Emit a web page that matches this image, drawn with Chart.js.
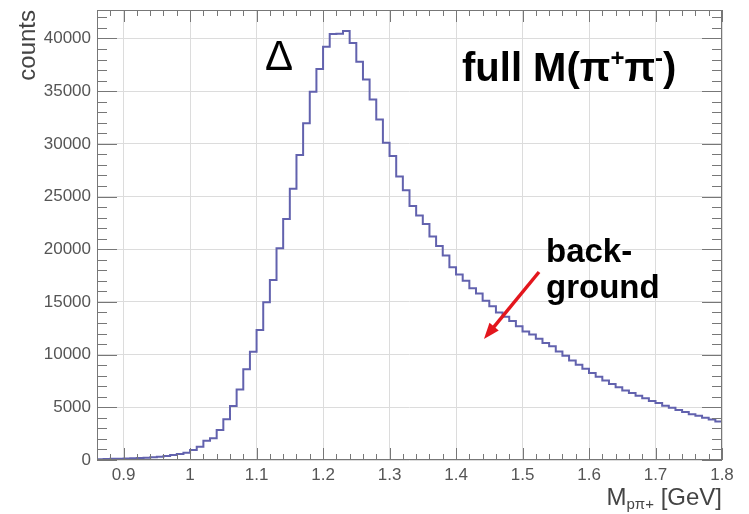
<!DOCTYPE html>
<html>
<head>
<meta charset="utf-8">
<script src="https://cdn.jsdelivr.net/npm/chart.js@4.4.0/dist/chart.umd.min.js"></script>
<style>
html, body { margin: 0; padding: 0; background: #fff; }
#myChart { display: block; }
</style>
</head>
<body>
<canvas id="myChart" width="749" height="514"></canvas>
<script>
// histogram: bins of 0.01 GeV starting at 0.86
const binStart = 0.86;
const binWidth = 0.01;
const xRange = [0.86, 1.8];
const yRange = [0, 42700];

const counts = [
    80, 90, 110, 120, 140, 160, 180, 210, 250, 300, 380, 470, 580, 680,
    950, 1260, 1820, 2060, 2850, 3860, 5120, 6700, 8600, 10280,
    12340, 14960, 17080, 20090, 22870, 25750, 28940, 31950, 34950, 37100,
    39220, 40430, 40450, 40700, 39580, 37780, 36100, 34200, 32300, 30100,
    28850, 26900, 25600, 24100, 23200, 22400, 21200, 20300, 19400, 18300,
    17600, 17000, 16300, 15800, 15100, 14600, 14000, 13600, 13200, 12700,
    12200, 11900, 11500, 11100, 10800, 10300, 9900, 9450, 9050, 8650,
    8250, 7900, 7550, 7200, 6900, 6600, 6350, 6100, 5850, 5600,
    5400, 5150, 4950, 4750, 4550, 4350, 4200, 4000, 3850, 3650
];

const xTicks = [0.9, 1, 1.1, 1.2, 1.3, 1.4, 1.5, 1.6, 1.7, 1.8];
const yTicks = [0, 5000, 10000, 15000, 20000, 25000, 30000, 35000, 40000];

const points = counts.map((c, i) => ({ x: +(binStart + i * binWidth).toFixed(2), y: c }));
points.push({ x: xRange[1], y: counts[counts.length - 1] });

function drawParts(ctx, parts, x, y) {
    let cx = x;
    parts.forEach(p => {
        ctx.font = p.font;
        ctx.fillText(p.t, cx, y + (p.dy || 0));
        cx += ctx.measureText(p.t).width;
    });
}

// ROOT style frame, inner ticks and the text labels
const rootFrame = {
    id: 'rootFrame',
    afterDraw(chart) {
        const { ctx, chartArea: a, scales: { x, y } } = chart;
        ctx.save();
        ctx.strokeStyle = '#777';
        ctx.lineWidth = 1;
        ctx.beginPath();
        for (let v = 0; v <= yRange[1]; v += 1000) {
            const py = Math.round(y.getPixelForValue(v)) + 0.5;
            const len = v % 5000 === 0 ? 20 : 10;
            ctx.moveTo(a.left, py); ctx.lineTo(a.left + len, py);
            ctx.moveTo(a.right, py); ctx.lineTo(a.right - len, py);
        }
        for (let i = 0; i <= 47; i++) {
            const v = xRange[0] + i * 0.02;
            const px = Math.round(x.getPixelForValue(v)) + 0.5;
            const major = Math.abs(v * 10 - Math.round(v * 10)) < 1e-6;
            const len = major ? 12 : 6;
            ctx.moveTo(px, a.bottom); ctx.lineTo(px, a.bottom - len);
            ctx.moveTo(px, a.top); ctx.lineTo(px, a.top + len);
        }
        ctx.stroke();
        ctx.strokeRect(a.left + 0.5, a.top + 0.5, a.width - 1, a.height - 1);

        // x axis title with subscript
        ctx.fillStyle = '#444';
        ctx.textBaseline = 'alphabetic';
        const tParts = [
            { t: 'M', font: '24px "Liberation Sans", Arial, sans-serif' },
            { t: 'pπ+', font: '15px "Liberation Sans", Arial, sans-serif', dy: 4 },
            { t: ' [GeV]', font: '24px "Liberation Sans", Arial, sans-serif' }
        ];
        let w = 0;
        tParts.forEach(p => { ctx.font = p.font; w += ctx.measureText(p.t).width; });
        drawParts(ctx, tParts, a.right - w, 505);

        // annotations
        ctx.fillStyle = '#000';
        ctx.font = '42px "Liberation Sans", Arial, sans-serif';
        ctx.fillText('Δ', x.getPixelForValue(1.1127), y.getPixelForValue(37000));

        const big = 'bold 40px "Liberation Sans", Arial, sans-serif';
        const sup = 'bold 24px "Liberation Sans", Arial, sans-serif';
        drawParts(ctx, [
            { t: 'full M(π', font: big },
            { t: '+', font: sup, dy: -15 },
            { t: 'π', font: big },
            { t: '-', font: sup, dy: -15 },
            { t: ')', font: big }
        ], x.getPixelForValue(1.409), y.getPixelForValue(35960));

        ctx.font = 'bold 33px "Liberation Sans", Arial, sans-serif';
        ctx.fillText('back-', x.getPixelForValue(1.5353), y.getPixelForValue(18790));
        ctx.fillText('ground', x.getPixelForValue(1.5353), y.getPixelForValue(15370));

        // red arrow
        const x0 = x.getPixelForValue(1.5248), y0 = y.getPixelForValue(17840);
        const x1 = x.getPixelForValue(1.442), y1 = y.getPixelForValue(11480);
        const ang = Math.atan2(y1 - y0, x1 - x0);
        const head = 16;
        ctx.strokeStyle = '#e3161d';
        ctx.fillStyle = '#e3161d';
        ctx.lineWidth = 3.5;
        ctx.beginPath();
        ctx.moveTo(x0, y0);
        ctx.lineTo(x1 - Math.cos(ang) * head * 0.8, y1 - Math.sin(ang) * head * 0.8);
        ctx.stroke();
        ctx.beginPath();
        ctx.moveTo(x1, y1);
        ctx.lineTo(x1 - head * Math.cos(ang) + 6 * Math.sin(ang), y1 - head * Math.sin(ang) - 6 * Math.cos(ang));
        ctx.lineTo(x1 - head * Math.cos(ang) - 6 * Math.sin(ang), y1 - head * Math.sin(ang) + 6 * Math.cos(ang));
        ctx.closePath();
        ctx.fill();
        ctx.restore();
    }
};

const ctx = document.querySelector('#myChart');

const graph = new Chart(ctx, {
    type: 'line',
    data: {
        datasets: [{
            label: 'counts',
            data: points,
            stepped: 'before',
            borderColor: '#6262ae',
            borderWidth: 2,
            pointRadius: 0,
            fill: false
        }]
    },
    options: {
        responsive: false,
        animation: false,
        devicePixelRatio: 1,
        layout: { padding: { left: 0, top: 10, right: 27, bottom: 0 } },
        plugins: { legend: { display: false }, tooltip: { enabled: false } },
        scales: {
            x: {
                type: 'linear',
                min: xRange[0],
                max: xRange[1],
                afterBuildTicks: s => { s.ticks = xTicks.map(v => ({ value: v })); },
                afterFit: s => { s.height = 54; s.paddingLeft = 0; s.paddingRight = 0; },
                grid: { color: '#dcdcdc', drawTicks: false },
                border: { display: false },
                ticks: {
                    padding: 5,
                    color: '#555',
                    font: { family: '"Liberation Sans", Arial, sans-serif', size: 17 },
                    callback: v => String(+v.toFixed(2))
                }
            },
            y: {
                min: yRange[0],
                max: yRange[1],
                afterBuildTicks: s => { s.ticks = yTicks.map(v => ({ value: v })); },
                afterFit: s => { s.width = 97; s.paddingTop = 0; s.paddingBottom = 0; },
                grid: { color: '#dcdcdc', drawTicks: false },
                border: { display: false },
                title: {
                    display: true,
                    text: 'counts',
                    align: 'end',
                    color: '#444',
                    padding: { top: 14, bottom: 0 },
                    font: { family: '"Liberation Sans", Arial, sans-serif', size: 24 }
                },
                ticks: {
                    padding: 6,
                    color: '#555',
                    font: { family: '"Liberation Sans", Arial, sans-serif', size: 17 },
                    callback: v => String(v)
                }
            }
        }
    },
    plugins: [rootFrame]
});
</script>
</body>
</html>
